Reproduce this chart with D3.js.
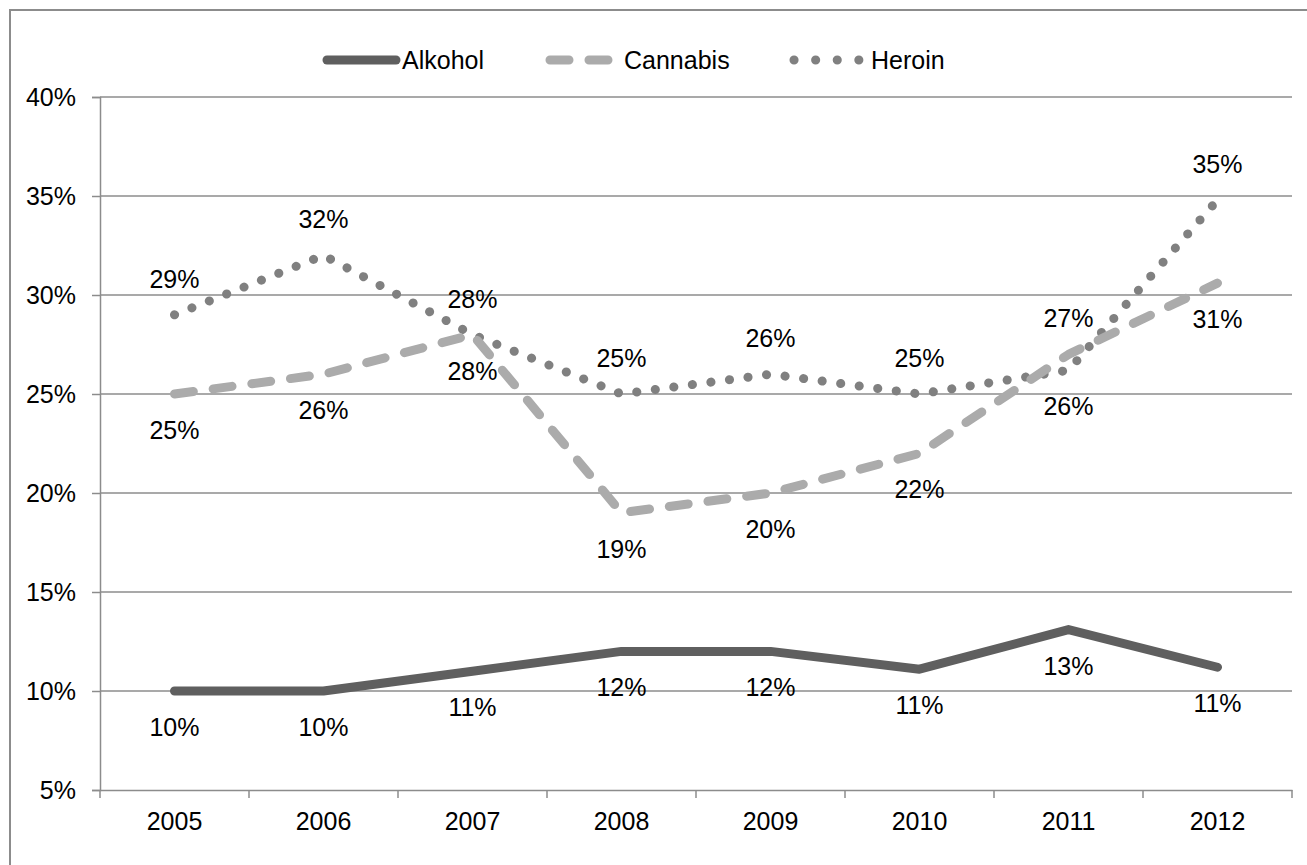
<!DOCTYPE html>
<html>
<head>
<meta charset="utf-8">
<script src="https://cdn.jsdelivr.net/npm/d3@7"></script>
<style>
  html, body { margin: 0; padding: 0; background: #fff; }
  svg { display: block; font-family: "Liberation Sans", Arial, sans-serif; }
</style>
</head>
<body>
<svg id="chart" width="1307" height="865"></svg>
<script>
// Years on the x axis
const years = ["2005", "2006", "2007", "2008", "2009", "2010", "2011", "2012"];
// Shares per substance (percent)
const alkohol  = [10, 10, 11, 12, 12, 11.1, 13.1, 11.2];
const cannabis = [25, 26, 28, 19, 20, 22, 27, 30.6];
const heroin   = [29, 32, 28, 25, 26, 25, 26.2, 34.8];
// Printed labels
const alkoholLabels  = ["10%", "10%", "11%", "12%", "12%", "11%", "13%", "11%"];
const cannabisLabels = ["25%", "26%", "28%", "19%", "20%", "22%", "27%", "31%"];
const heroinLabels   = ["29%", "32%", "28%", "25%", "26%", "25%", "26%", "35%"];
// Label placement: 1 = above the point, -1 = below
const alkoholSide  = [-1, -1, -1, -1, -1, -1, -1, -1];
const cannabisSide = [-1, -1, -1, -1, -1, -1, 1, -1];
const heroinSide   = [1, 1, 1, 1, 1, 1, -1, 1];
const yTicks = [5, 10, 15, 20, 25, 30, 35, 40];

const FONT = 25;
const svg = d3.select("#chart");
const plotLeft = 100, plotRight = 1292, plotTop = 97, plotBottom = 790;

// outer frame
svg.append("rect")
  .attr("x", 10).attr("y", 10)
  .attr("width", 1310).attr("height", 870)
  .attr("fill", "none").attr("stroke", "#8c8c8c").attr("stroke-width", 2);

const x = d3.scaleBand().domain(years).range([plotLeft, plotRight]).padding(0);
const y = d3.scaleLinear().domain([5, 40]).range([plotBottom, plotTop]);
const cx = d => x(d) + x.bandwidth() / 2;

// gridlines
svg.append("g").selectAll("line").data(yTicks.slice(1)).join("line")
  .attr("x1", plotLeft).attr("x2", plotRight)
  .attr("y1", d => y(d)).attr("y2", d => y(d))
  .attr("stroke", "#8c8c8c").attr("stroke-width", 1.5);

// y axis
const yAxis = svg.append("g").attr("transform", `translate(${plotLeft},0)`)
  .call(d3.axisLeft(y).tickValues(yTicks).tickFormat(d => d + "%").tickSize(8).tickPadding(16));
yAxis.attr("font-size", FONT).attr("font-family", "Liberation Sans, Arial, sans-serif");
yAxis.select(".domain").attr("stroke", "#8c8c8c").attr("stroke-width", 1.5);
yAxis.selectAll(".tick line").attr("stroke", "#8c8c8c").attr("stroke-width", 1.5);
yAxis.selectAll("text").attr("fill", "#000");

// x axis with ticks on category boundaries
const xAxis = svg.append("g").attr("transform", `translate(0,${plotBottom})`)
  .call(d3.axisBottom(x).tickSize(0).tickPadding(22));
xAxis.attr("font-size", FONT).attr("font-family", "Liberation Sans, Arial, sans-serif");
xAxis.select(".domain").attr("stroke", "#8c8c8c").attr("stroke-width", 1.5);
xAxis.selectAll("text").attr("fill", "#000");
const bounds = years.map(d => x(d)).concat([plotRight]);
svg.append("g").selectAll("line").data(bounds).join("line")
  .attr("x1", d => d).attr("x2", d => d)
  .attr("y1", plotBottom).attr("y2", plotBottom + 8)
  .attr("stroke", "#8c8c8c").attr("stroke-width", 1.5);

const series = [
  { name: "Alkohol", values: alkohol, labels: alkoholLabels, side: alkoholSide,
    color: "#5f5f5f", width: 9, dash: null, legendDash: null },
  { name: "Cannabis", values: cannabis, labels: cannabisLabels, side: cannabisSide,
    color: "#ababab", width: 9, dash: "19,20", legendDash: "19,20" },
  { name: "Heroin", values: heroin, labels: heroinLabels, side: heroinSide,
    color: "#808080", width: 9, dash: "0.1,18.6", legendDash: "0.1,21.5" }
];

const line = d3.line().x((d, i) => cx(years[i])).y(d => y(d));

// draw Heroin first, then Cannabis, then Alkohol on top
[series[2], series[1], series[0]].forEach(s => {
  svg.append("path").datum(s.values)
    .attr("d", line)
    .attr("fill", "none")
    .attr("stroke", s.color)
    .attr("stroke-width", s.width)
    .attr("stroke-linecap", "round")
    .attr("stroke-linejoin", "round")
    .attr("stroke-dasharray", s.dash);
});

// data labels
series.forEach(s => {
  svg.append("g").selectAll("text").data(s.values).join("text")
    .attr("x", (d, i) => cx(years[i]))
    .attr("y", (d, i) => y(d) - s.side[i] * 36)
    .attr("dy", "0.36em")
    .attr("text-anchor", "middle")
    .attr("font-size", FONT)
    .attr("fill", "#000")
    .text((d, i) => s.labels[i]);
});

// legend
const legend = svg.append("g");
const legendItems = [
  { s: series[0], x1: 327, x2: 396, tx: 402 },
  { s: series[1], x1: 550, x2: 608, tx: 624 },
  { s: series[2], x1: 794, x2: 860, tx: 871 }
];
legendItems.forEach(it => {
  legend.append("line")
    .attr("x1", it.x1).attr("x2", it.x2).attr("y1", 60).attr("y2", 60)
    .attr("stroke", it.s.color).attr("stroke-width", it.s.width)
    .attr("stroke-linecap", "round")
    .attr("stroke-dasharray", it.s.legendDash);
  legend.append("text")
    .attr("x", it.tx).attr("y", 60).attr("dy", "0.36em")
    .attr("font-size", FONT).attr("fill", "#000")
    .text(it.s.name);
});
</script>
</body>
</html>
